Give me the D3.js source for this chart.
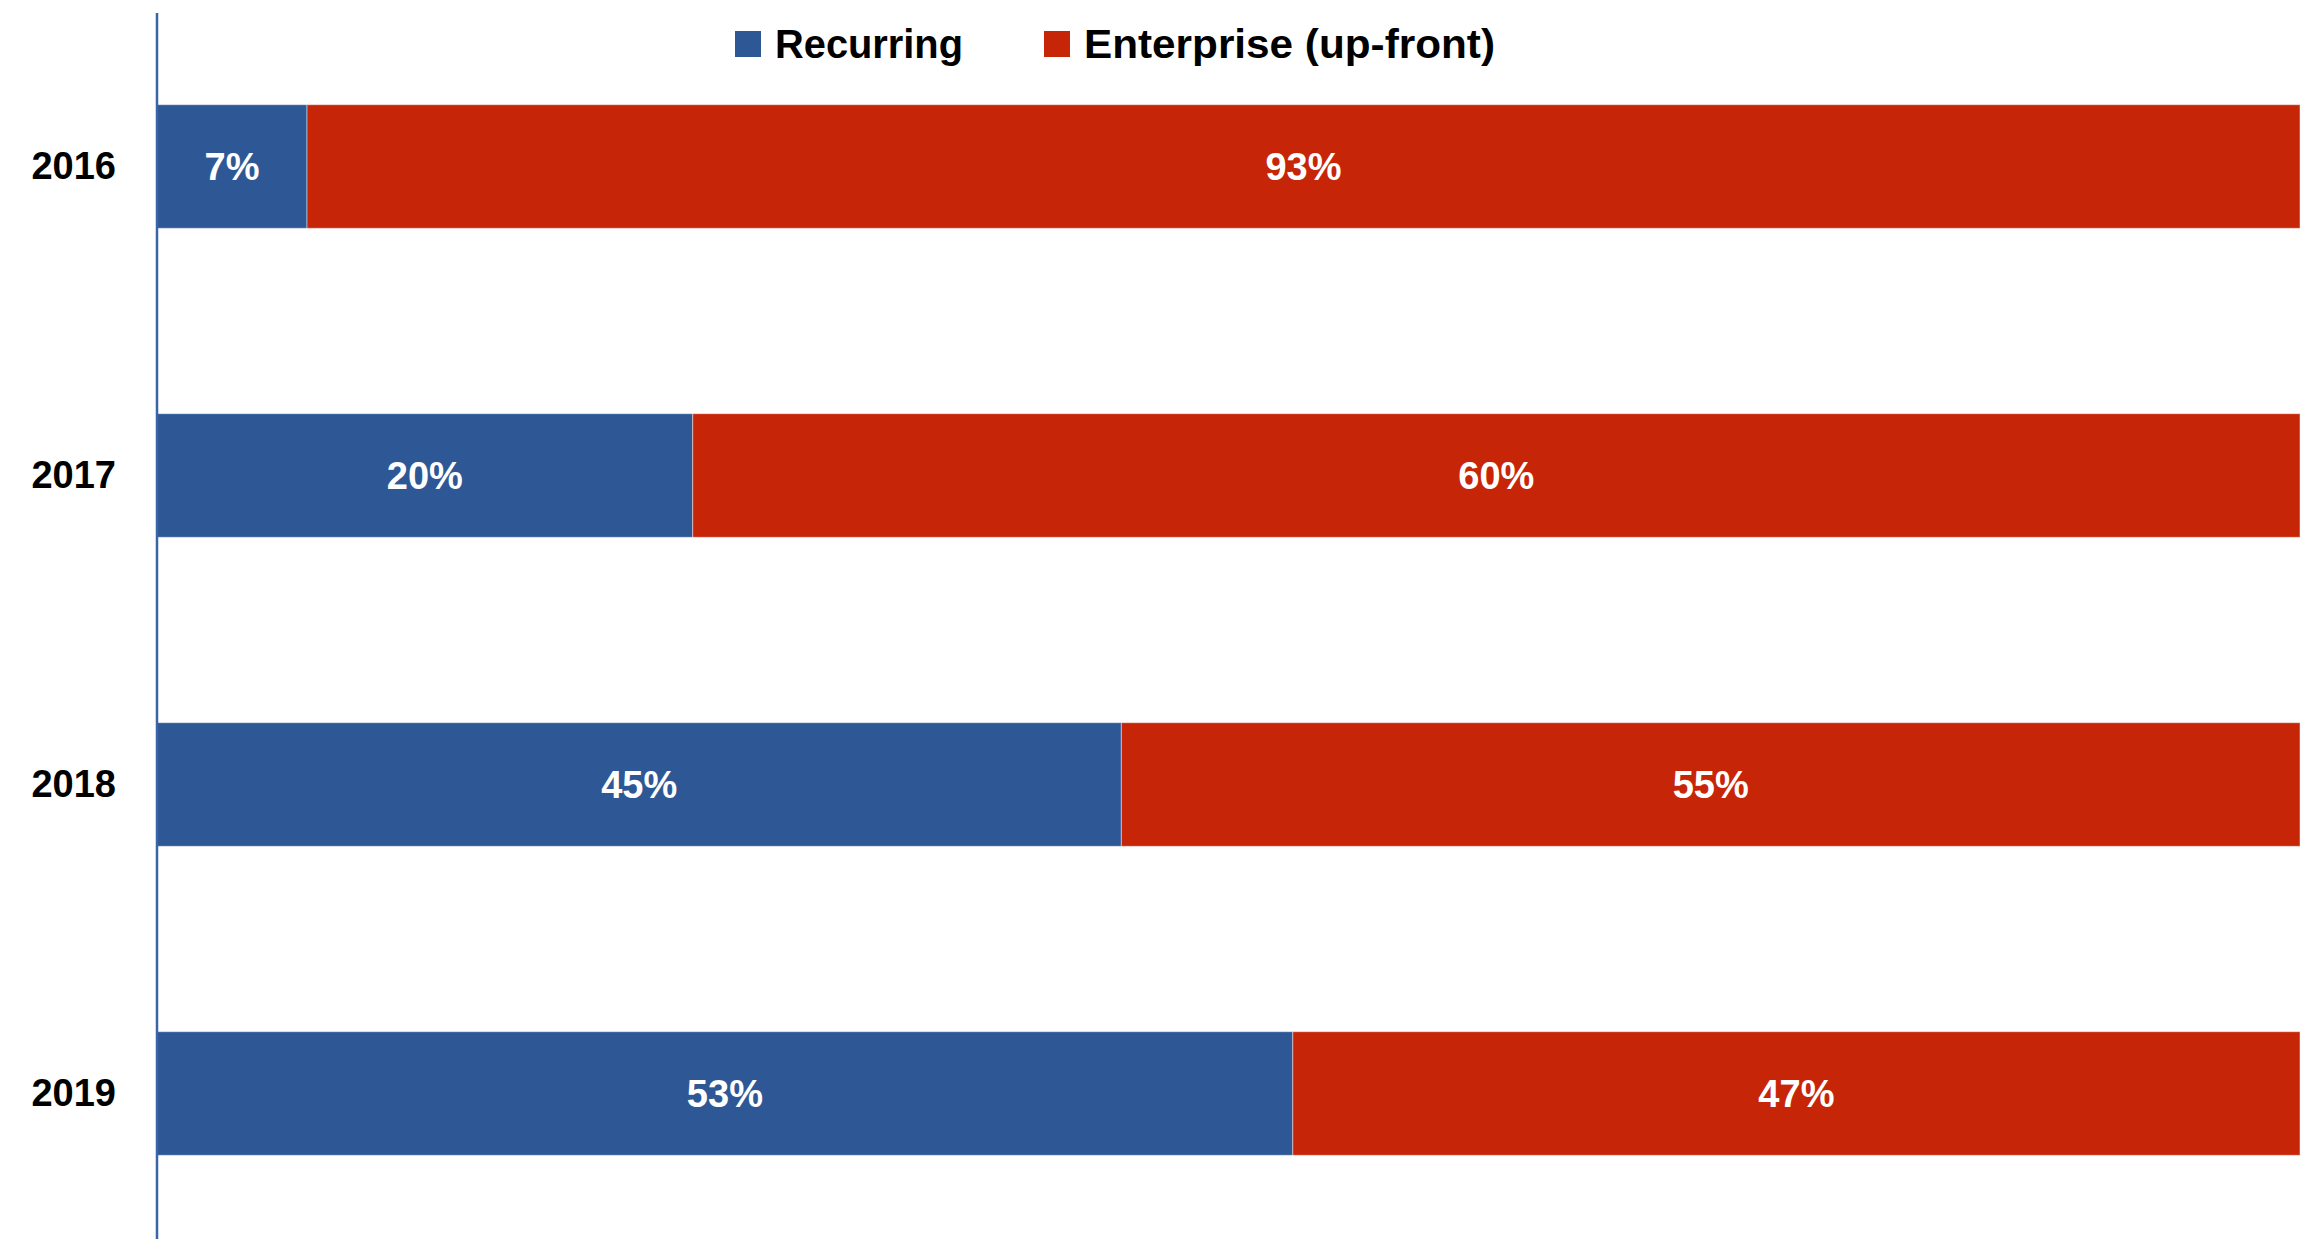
<!DOCTYPE html>
<html>
<head>
<meta charset="utf-8">
<script src="https://cdn.jsdelivr.net/npm/d3@7"></script>
<style>
  body { margin: 0; background: #fff; }
  svg { display: block; font-family: "Liberation Sans", Arial, sans-serif; font-weight: bold; }
</style>
</head>
<body>
<svg id="chart"></svg>
<script>
var years = ["2016", "2017", "2018", "2019"];
var seriesNames = ["Recurring", "Enterprise (up-front)"];
var recurring = [7, 20, 45, 53];
var enterprise = [93, 60, 55, 47];
var colors = ["#2E5796", "#C72508"];

var width = 2305, height = 1239;
var svg = d3.select("#chart")
    .attr("width", width)
    .attr("height", height);

var rows = years.map((y, i) => ({ year: y, Recurring: recurring[i], "Enterprise (up-front)": enterprise[i] }));

// 100% stacked
var stack = d3.stack()
    .keys(seriesNames)
    .offset(d3.stackOffsetExpand);
var layers = stack(rows);

var x = d3.scaleLinear()
    .domain([0, 1])
    .range([157, 2300]);

var y = d3.scaleBand()
    .domain(years)
    .range([12, 1248])
    .paddingInner(0.6)
    .paddingOuter(0.3);

var color = d3.scaleOrdinal()
    .domain(seriesNames)
    .range(colors);

var groups = svg.selectAll("g.layer")
    .data(layers)
    .enter().append("g")
    .attr("class", "layer")
    .attr("fill", d => color(d.key));

groups.selectAll("rect")
    .data(d => d)
    .enter().append("rect")
    .attr("x", d => x(d[0]))
    .attr("y", d => y(d.data.year))
    .attr("width", d => x(d[1]) - x(d[0]))
    .attr("height", y.bandwidth())
    .attr("stroke", "rgba(255,255,255,0.45)")
    .attr("stroke-width", 1);

// value labels
layers.forEach(layer => {
    svg.append("g").selectAll("text")
        .data(layer)
        .enter().append("text")
        .attr("x", d => (x(d[0]) + x(d[1])) / 2)
        .attr("y", d => y(d.data.year) + y.bandwidth() / 2)
        .attr("dy", "0.36em")
        .attr("text-anchor", "middle")
        .attr("fill", "#fff")
        .attr("font-size", "38px")
        .text(d => d.data[layer.key] + "%");
});

// y axis
var yAxis = d3.axisLeft(y).tickSize(0).tickPadding(41);
var axisG = svg.append("g")
    .attr("transform", "translate(157,0)")
    .call(yAxis);
axisG.select(".domain").remove();
axisG.selectAll("text")
    .attr("font-family", "Liberation Sans, Arial, sans-serif")
    .attr("font-weight", "bold")
    .attr("font-size", "38px")
    .attr("fill", "#000");

svg.append("line")
    .attr("x1", 157).attr("x2", 157)
    .attr("y1", 13).attr("y2", height)
    .attr("stroke", "#3A64A8")
    .attr("stroke-width", 2.5);

// legend
var legendX = [735, 1044];
var legendW = [188, 411];
var legend = svg.selectAll("g.legend")
    .data(seriesNames)
    .enter().append("g")
    .attr("class", "legend")
    .attr("transform", (d, i) => `translate(${legendX[i]},31)`);

legend.append("rect")
    .attr("width", 26)
    .attr("height", 26)
    .attr("fill", d => color(d));

legend.append("text")
    .attr("x", 40)
    .attr("y", 27)
    .attr("font-size", "40px")
    .attr("fill", "#000")
    .attr("textLength", (d, i) => legendW[i])
    .attr("lengthAdjust", "spacingAndGlyphs")
    .text(d => d);
</script>
</body>
</html>
